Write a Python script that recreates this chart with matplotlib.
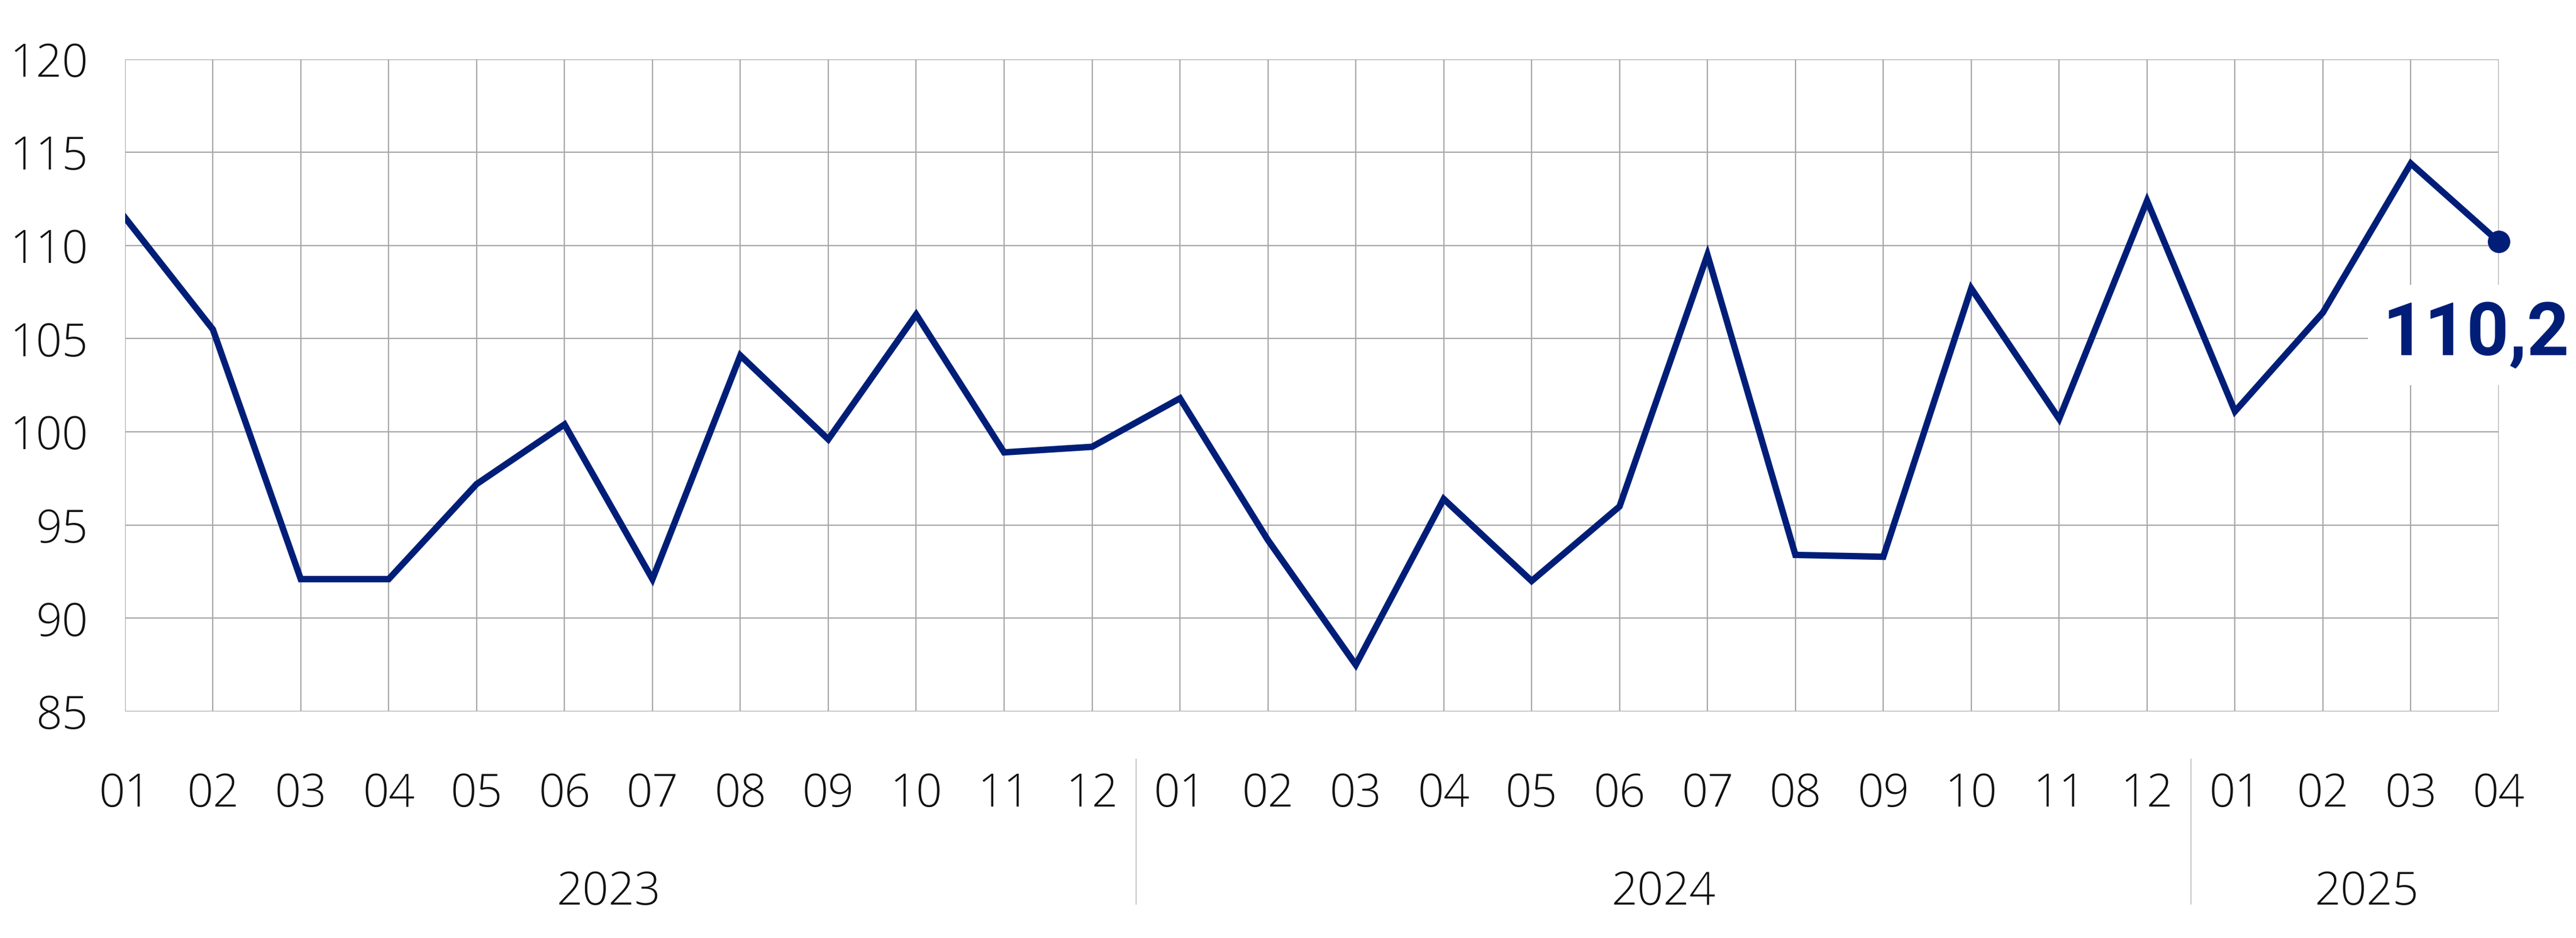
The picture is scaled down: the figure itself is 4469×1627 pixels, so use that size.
import matplotlib
matplotlib.use("Agg")
import matplotlib.pyplot as plt
from matplotlib import font_manager
import matplotlib.transforms as mtransforms

# Monthly index values, 2023-01 .. 2025-04
months = ["01", "02", "03", "04", "05", "06", "07", "08", "09", "10", "11", "12",
          "01", "02", "03", "04", "05", "06", "07", "08", "09", "10", "11", "12",
          "01", "02", "03", "04"]
values = [111.5, 105.5, 92.1, 92.1, 97.2, 100.4, 92.1, 104.1, 99.6, 106.3, 98.9, 99.2,
          101.8, 94.2, 87.5, 96.4, 92.0, 96.0, 109.5, 93.4, 93.3, 107.7, 100.7, 112.4,
          101.1, 106.4, 114.4, 110.2]
years = ["2023", "2024", "2025"]
year_len = [12, 12, 4]
last_label = "110,2"

navy = "#001E78"
grid_col = "#A8A8A8"
txt_col = "#111111"

# pick a light-weight face if one is installed, else regular
fonts = font_manager.fontManager.ttflist
base_font, base_weight = "DejaVu Sans", "normal"
for fam in ["Open Sans", "Roboto", "Noto Sans", "Inter", "Lato"]:
    if any(f.name == fam and f.weight in (300, "light") for f in fonts):
        base_font, base_weight = fam, "light"
        break
names = {f.name for f in fonts}
bold_font = "Liberation Sans Narrow" if "Liberation Sans Narrow" in names else "Roboto"

fig = plt.figure(figsize=(44.69, 16.27), dpi=100)
ax = fig.add_axes([0.0485, 0.2415, 0.9215, 0.6955])

x = list(range(len(values)))
ax.plot(x, values, color=navy, lw=8, solid_joinstyle="miter", zorder=3)
ax.plot(x[-1], values[-1], "o", color=navy, ms=27, zorder=4, clip_on=False)

ax.set_xlim(0, len(values) - 1)
ax.set_ylim(85, 120)
ax.set_yticks(range(85, 121, 5))
ax.set_xticks(x)
ax.set_xticklabels(months)
ax.grid(True, color=grid_col, lw=1.6)
ax.set_axisbelow(True)
for s in ax.spines.values():
    s.set_visible(False)
ax.tick_params(length=0, labelsize=57, colors=txt_col)
ax.tick_params(axis="y", pad=46)
ax.tick_params(axis="x", pad=75)
for lab in ax.get_xticklabels() + ax.get_yticklabels():
    lab.set_fontfamily(base_font)
    lab.set_fontweight(base_weight)

# year labels and separators below the month labels
trans = mtransforms.blended_transform_factory(ax.transData, fig.transFigure)
start = 0
for i, (yr, n) in enumerate(zip(years, year_len)):
    center = start + (n - 1) / 2
    ax.text(center, 1 - 1548 / 1627, yr, transform=trans, ha="center", va="center",
            fontsize=57, fontfamily=base_font, fontweight=base_weight, color=txt_col)
    if i < len(years) - 1:
        sep = start + n - 0.5
        ax.plot([sep, sep], [1 - 1317 / 1627, 1 - 1568 / 1627], transform=trans,
                color="#C8C8C8", lw=1.5, clip_on=False)
    start += n

# label for the last value, right-aligned near the figure edge
ltrans = mtransforms.blended_transform_factory(fig.transFigure, ax.transData)
ax.text(4458 / 4469, 105.2, last_label, transform=ltrans, ha="right", va="center",
        fontsize=92, fontfamily=bold_font, fontweight="bold", color=navy, zorder=5,
        clip_on=False, bbox=dict(boxstyle="square,pad=0.2", fc="white", ec="none"))

fig.savefig("out.png", dpi=100, facecolor="white")
